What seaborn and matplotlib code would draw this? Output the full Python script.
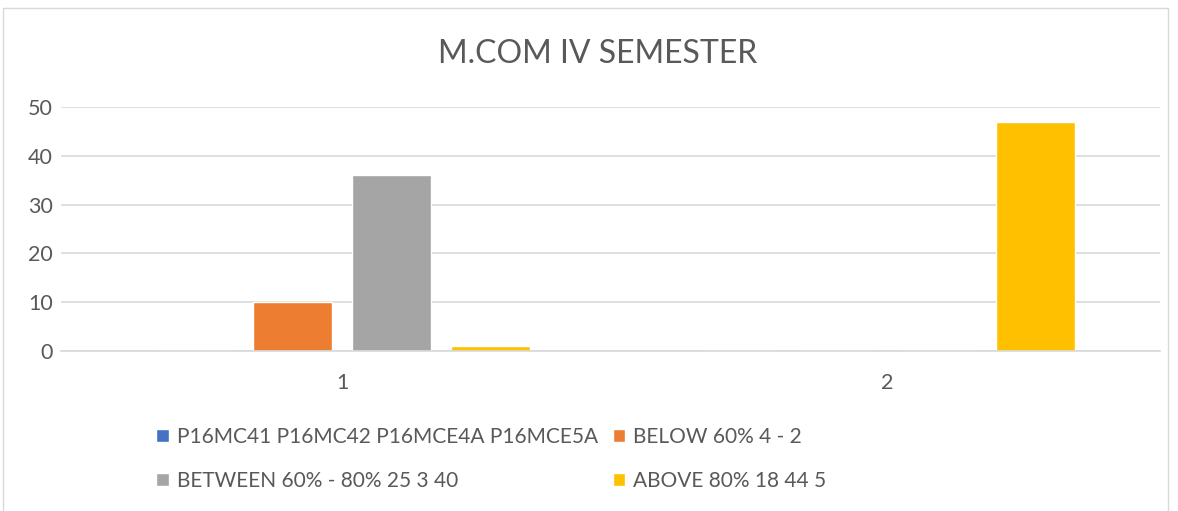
import matplotlib
matplotlib.use("Agg")
import matplotlib.pyplot as plt
import seaborn as sns
import pandas as pd
from matplotlib.patches import Rectangle

# Data
categories = ["1", "2"]
series_names = ["P16MC41 P16MC42 P16MCE4A P16MCE5A", "BELOW 60% 4 - 2",
                "BETWEEN 60% - 80% 25 3 40", "ABOVE 80% 18 44 5"]
codes_vals = [0, 0]
below_vals = [10, 0]
between_vals = [36, 0]
above_vals = [1, 47]
colors = ["#4472C4", "#ED7D31", "#A5A5A5", "#FFC000"]

df = pd.DataFrame({
    "category": categories * 4,
    "series": [s for s in series_names for _ in categories],
    "value": codes_vals + below_vals + between_vals + above_vals,
})

sns.set_theme(style="white")
plt.rcParams["font.family"] = ["Lato", "DejaVu Sans"]

fig = plt.figure(figsize=(11.78, 5.11), dpi=100)
ax = fig.add_axes([61 / 1178, 1 - 351 / 511, 1099 / 1178, 244 / 511])

sns.barplot(data=df, x="category", y="value", hue="series", hue_order=series_names,
            palette=colors, order=categories, width=0.727, gap=0.2, ax=ax,
            saturation=1, legend=True)

ax.set_ylim(0, 50)
ax.set_yticks(range(0, 51, 10))
ax.set_xlim(-0.516, 1.501)
ax.yaxis.grid(True, color="#d9d9d9", linewidth=1.2)
ax.set_axisbelow(True)
for side in ["top", "right", "left"]:
    ax.spines[side].set_visible(False)
ax.spines["bottom"].set_color("#d9d9d9")
ax.spines["bottom"].set_linewidth(1.2)
ax.tick_params(axis="both", length=0, labelsize=15.5, colors="#595959")
ax.tick_params(axis="y", pad=6)
ax.tick_params(axis="x", pad=16)
ax.set_xlabel("")
ax.set_ylabel("")

# legend, two columns like the original
handles, labels = ax.get_legend_handles_labels()
ax.get_legend().remove()
order = [0, 2, 1, 3]
fig.legend([handles[i] for i in order], [labels[i] for i in order], ncol=2,
           loc="upper left", bbox_to_anchor=(156 / 1178, 1 - 427 / 511),
           frameon=False, fontsize=15, labelcolor="#595959",
           handlelength=0.6, handleheight=0.6, handletextpad=0.4,
           columnspacing=0.7, labelspacing=1.16, borderpad=0, borderaxespad=0)

fig.text(0.507, 1 - 54 / 511, "M.COM IV SEMESTER", ha="center", va="center",
         fontsize=23, color="#595959")

# chart border
fig.patches.append(Rectangle((3 / 1178, -0.01), 1165 / 1178, 1 - 8 / 511 + 0.01,
                             transform=fig.transFigure, fill=False,
                             edgecolor="#d9d9d9", linewidth=1))

fig.savefig("out.png", dpi=100)
